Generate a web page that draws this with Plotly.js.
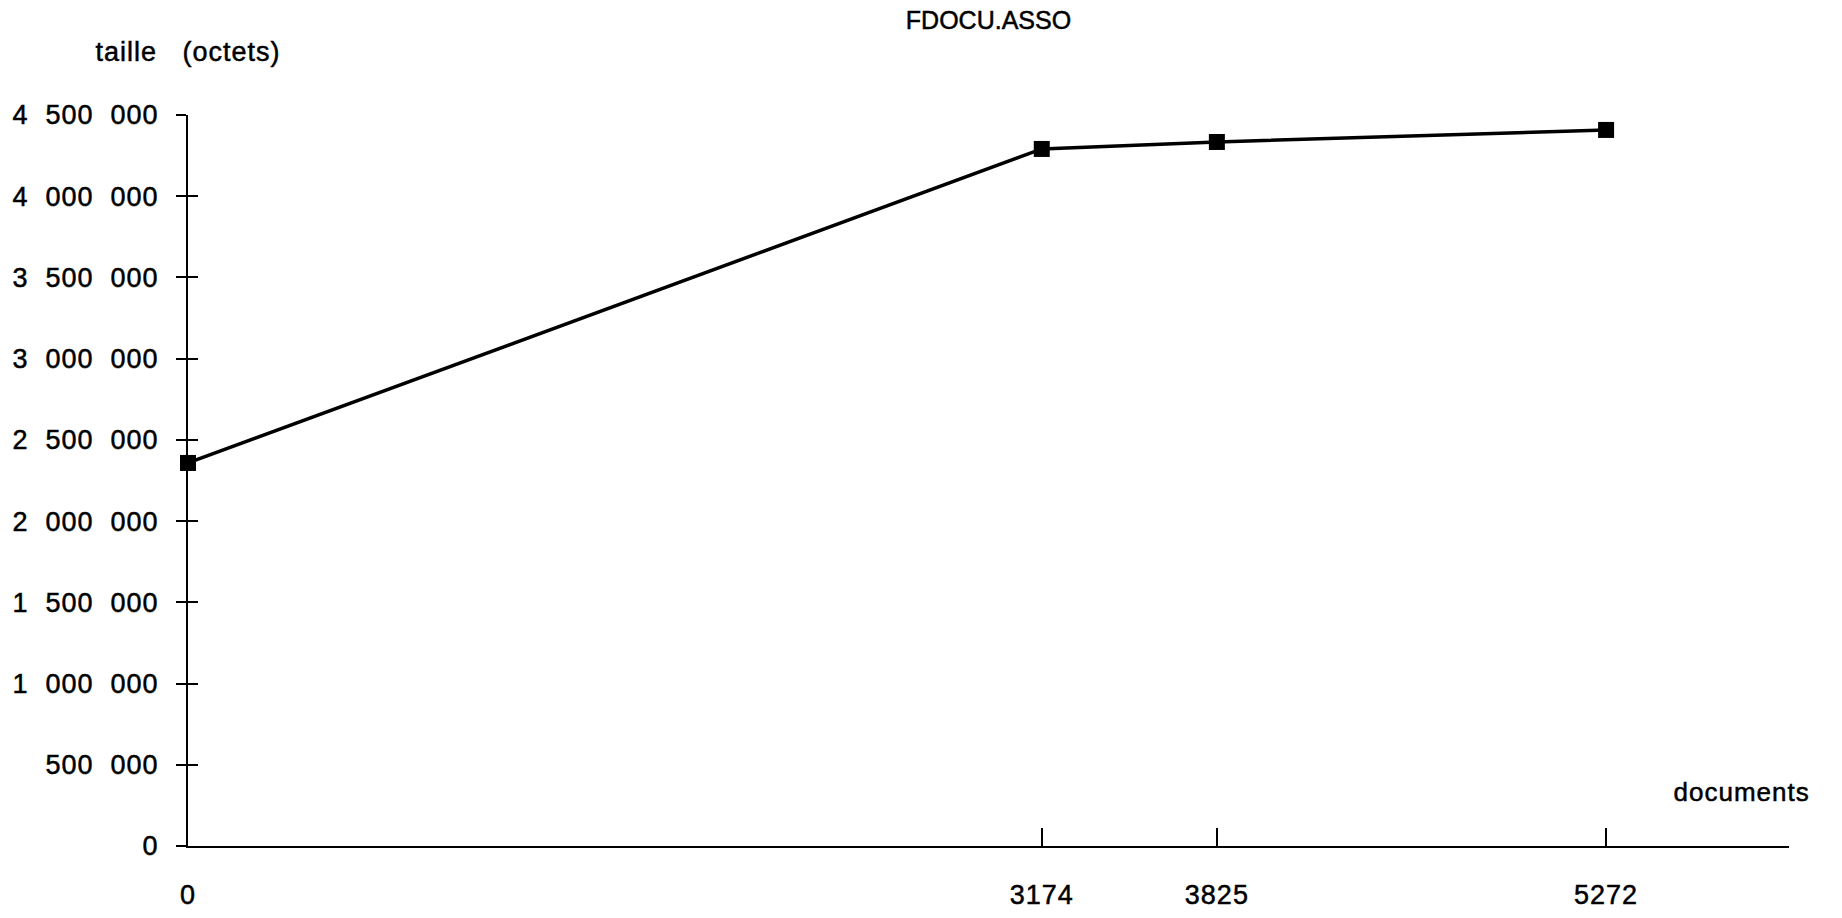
<!DOCTYPE html>
<html>
<head>
<meta charset="utf-8">
<script src="https://cdn.plot.ly/plotly-3.0.1.min.js"></script>
<style>
html, body { margin: 0; padding: 0; background: #fff; }
#chart { width: 1842px; height: 918px; }
.main-svg text { letter-spacing: 1px; stroke: #000; stroke-width: 0.5px; }
.main-svg .gtitle { letter-spacing: 0px; }
</style>
</head>
<body>
<div id="chart"></div>
<script>
const documents = [0, 3174, 3825, 5272];
const tailleOctets = [2358000, 4291000, 4334000, 4408000];

const xTickVals = [0, 3174, 3825, 5272];
const xTickText = ['0', '3174', '3825', '5272'];

const yTickVals = [0, 500000, 1000000, 1500000, 2000000, 2500000, 3000000, 3500000, 4000000, 4500000];
const S = '\u00a0\u00a0';
const yTickText = ['0', '500' + S + '000', '1' + S + '000' + S + '000', '1' + S + '500' + S + '000',
  '2' + S + '000' + S + '000', '2' + S + '500' + S + '000', '3' + S + '000' + S + '000',
  '3' + S + '500' + S + '000', '4' + S + '000' + S + '000', '4' + S + '500' + S + '000'];

const fontFam = '"Liberation Sans", Arial, Helvetica, sans-serif';

const trace = {
  x: documents,
  y: tailleOctets,
  type: 'scatter',
  mode: 'lines+markers',
  line: { color: '#000', width: 3.5 },
  marker: { symbol: 'square', size: 16, color: '#000' },
  cliponaxis: false,
  hoverinfo: 'x+y',
  showlegend: false
};

const layout = {
  width: 1842,
  height: 918,
  paper_bgcolor: '#fff',
  plot_bgcolor: '#fff',
  margin: { l: 188, r: 53, t: 115, b: 72 },
  font: { family: fontFam, color: '#000', size: 27 },
  title: {
    text: 'FDOCU.ASSO',
    font: { family: fontFam, size: 25, color: '#000' },
    x: 0.5, xref: 'paper', xanchor: 'center',
    y: 1 - 20 / 918, yref: 'container', yanchor: 'middle'
  },
  xaxis: {
    range: [0, 5952],
    showgrid: false,
    zeroline: false,
    showline: true,
    linecolor: '#000',
    linewidth: 2,
    layer: 'below traces',
    ticks: 'inside',
    ticklen: 18,
    tickwidth: 2,
    tickcolor: '#000',
    tickmode: 'array',
    tickvals: xTickVals,
    ticktext: xTickText,
    ticklabelstandoff: 24,
    tickfont: { family: fontFam, size: 27, color: '#000' },
    fixedrange: true
  },
  yaxis: {
    range: [0, 4500000],
    showgrid: false,
    zeroline: false,
    showline: true,
    linecolor: '#000',
    linewidth: 2,
    layer: 'below traces',
    ticks: 'outside',
    ticklen: 10,
    tickwidth: 1.5,
    tickcolor: '#000',
    tickmode: 'array',
    tickvals: yTickVals,
    ticktext: yTickText,
    ticklabelstandoff: 12,
    tickfont: { family: fontFam, size: 27, color: '#000' },
    fixedrange: true
  },
  yaxis2: {
    overlaying: 'y',
    matches: 'y',
    side: 'left',
    showgrid: false,
    zeroline: false,
    showline: false,
    layer: 'below traces',
    ticks: 'inside',
    ticklen: 10,
    tickwidth: 1.5,
    tickcolor: '#000',
    tickmode: 'array',
    tickvals: yTickVals,
    showticklabels: false,
    fixedrange: true
  },
  annotations: [
    {
      text: 'taille\u00a0\u00a0\u00a0(octets)',
      xref: 'paper', yref: 'paper',
      x: 0, y: 1.086,
      xanchor: 'center', yanchor: 'middle',
      showarrow: false,
      font: { family: fontFam, size: 27, color: '#000' }
    },
    {
      text: 'documents',
      xref: 'paper', yref: 'paper',
      x: 0.9706, y: 0.0739,
      xanchor: 'center', yanchor: 'middle',
      showarrow: false,
      font: { family: fontFam, size: 26, color: '#000' }
    }
  ]
};

const ghost = { x: [0], y: [0], yaxis: 'y2', type: 'scatter', mode: 'markers', marker: { opacity: 0 }, hoverinfo: 'skip', showlegend: false };

Plotly.newPlot('chart', [ghost, trace], layout, { displayModeBar: false });
</script>
</body>
</html>
